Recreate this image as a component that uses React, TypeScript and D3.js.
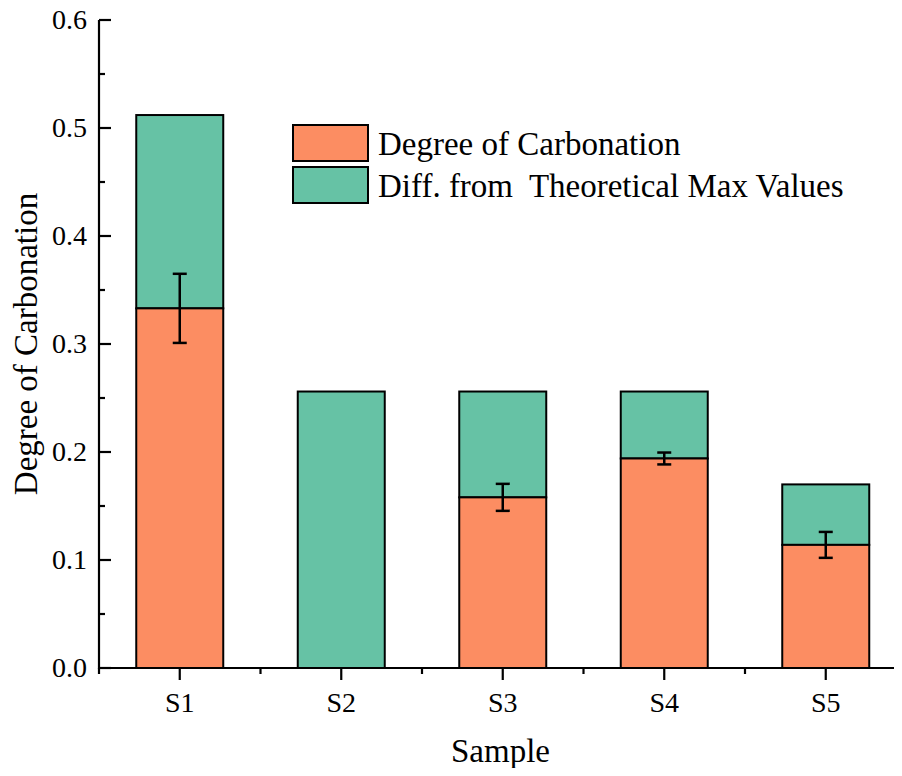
import { useEffect, useRef } from "react";
import * as d3 from "d3";

const samples = ["S1", "S2", "S3", "S4", "S5"];
const carbonation = [0.333, 0, 0.158, 0.194, 0.114];
const theoreticalMax = [0.512, 0.256, 0.256, 0.256, 0.170];
const errors = [0.032, 0, 0.0125, 0.0055, 0.012];
const yTicks = [0, 0.1, 0.2, 0.3, 0.4, 0.5, 0.6];
const legendLabels = ["Degree of Carbonation", "Diff. from  Theoretical Max Values"];
const colors = ["#FC8D62", "#66C2A5"];

function App() {
  const ref = useRef<SVGSVGElement>(null);

  useEffect(() => {
    draw();
    // eslint-disable-next-line
  }, []);

  function draw() {
    const width = 902;
    const left = 99;
    const bottom = 668;
    const top = 20;
    const step = 161.5;
    const font = "'Liberation Serif', 'Times New Roman', serif";

    const svg = d3.select(ref.current);
    svg.selectAll("*").remove();

    const x = d3.scaleLinear().domain([0.5, 5.5]).range([left, left + step * 5]);
    const y = d3.scaleLinear().domain([0, 0.6]).range([bottom, top]);
    const barW = 87;

    // bars: orange base + green diff on top
    const g = svg.append("g");
    samples.forEach((s, i) => {
      const cx = x(i + 1);
      g.append("rect")
        .attr("x", cx - barW / 2)
        .attr("y", y(theoreticalMax[i]))
        .attr("width", barW)
        .attr("height", y(carbonation[i]) - y(theoreticalMax[i]))
        .attr("fill", colors[1])
        .attr("stroke", "black")
        .attr("stroke-width", 2);
      if (carbonation[i] > 0) {
        g.append("rect")
          .attr("x", cx - barW / 2)
          .attr("y", y(carbonation[i]))
          .attr("width", barW)
          .attr("height", y(0) - y(carbonation[i]))
          .attr("fill", colors[0])
          .attr("stroke", "black")
          .attr("stroke-width", 2);
      }
      if (errors[i] > 0) {
        const eg = g.append("g").attr("stroke", "black").attr("stroke-width", 2.5);
        eg.append("line")
          .attr("x1", cx).attr("x2", cx)
          .attr("y1", y(carbonation[i] + errors[i]))
          .attr("y2", y(carbonation[i] - errors[i]));
        [1, -1].forEach(sg => {
          eg.append("line")
            .attr("x1", cx - 7).attr("x2", cx + 7)
            .attr("y1", y(carbonation[i] + sg * errors[i]))
            .attr("y2", y(carbonation[i] + sg * errors[i]));
        });
      }
    });

    // y axis, ticks inward
    const ax = svg.append("g").attr("stroke", "black").attr("stroke-width", 2.2);
    ax.append("line").attr("x1", left).attr("x2", left).attr("y1", top).attr("y2", bottom + 1);
    d3.range(0, 0.6001, 0.05).forEach((v, k) => {
      const len = k % 2 === 0 ? 12 : 6;
      ax.append("line").attr("x1", left).attr("x2", left + len).attr("y1", y(v)).attr("y2", y(v));
    });
    svg.append("g").selectAll("text")
      .data(yTicks)
      .enter()
      .append("text")
      .attr("x", left - 12)
      .attr("y", d => y(d) + 9)
      .attr("text-anchor", "end")
      .attr("font-family", font)
      .attr("font-size", 28)
      .text(d => d3.format(".1f")(d));

    // x axis, ticks outward
    ax.append("line").attr("x1", left - 1).attr("x2", width).attr("y1", bottom).attr("y2", bottom);
    d3.range(0.5, 5.51, 0.5).forEach((v, k) => {
      const len = k % 2 === 1 ? 12 : 6;
      ax.append("line").attr("x1", x(v)).attr("x2", x(v)).attr("y1", bottom).attr("y2", bottom + len);
    });
    svg.append("g").selectAll("text")
      .data(samples)
      .enter()
      .append("text")
      .attr("x", (d, i) => x(i + 1))
      .attr("y", 712)
      .attr("text-anchor", "middle")
      .attr("font-family", font)
      .attr("font-size", 28)
      .text(d => d);

    // axis titles
    svg.append("text")
      .attr("x", (left + width) / 2)
      .attr("y", 762)
      .attr("text-anchor", "middle")
      .attr("font-family", font)
      .attr("font-size", 33)
      .text("Sample");
    svg.append("text")
      .attr("transform", `translate(37, ${(top + bottom) / 2}) rotate(-90)`)
      .attr("text-anchor", "middle")
      .attr("font-family", font)
      .attr("font-size", 33)
      .text("Degree of Carbonation");

    // legend
    const lg = svg.append("g");
    legendLabels.forEach((l, i) => {
      lg.append("rect")
        .attr("x", 293)
        .attr("y", 125 + i * 42)
        .attr("width", 75)
        .attr("height", 36)
        .attr("fill", colors[i])
        .attr("stroke", "black")
        .attr("stroke-width", 2);
      lg.append("text")
        .attr("x", 378)
        .attr("y", 155 + i * 42)
        .attr("font-family", font)
        .attr("font-size", 33)
        .attr("xml:space", "preserve")
        .style("white-space", "pre")
        .text(l);
    });
  }

  return (
    <div>
      <svg ref={ref} width={902} height={776} style={{ display: "block", margin: "-8px" }}></svg>
    </div>
  );
}

export default App;
